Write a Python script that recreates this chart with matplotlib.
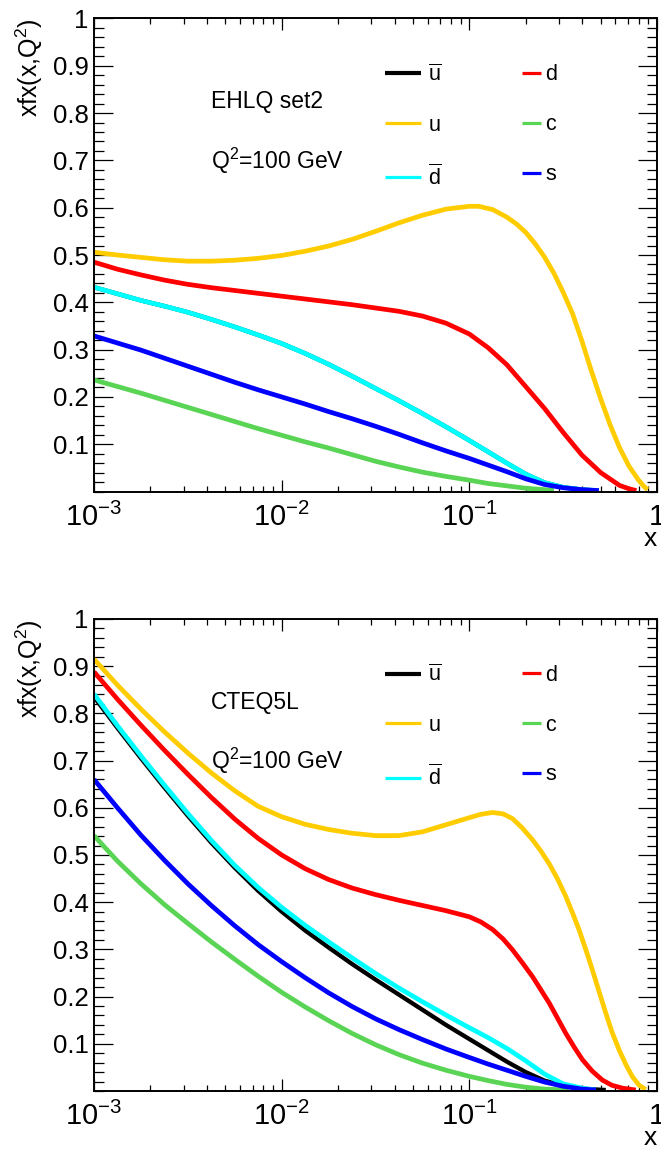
import numpy as np
import matplotlib.pyplot as plt
from matplotlib.ticker import FixedLocator, FixedFormatter, MultipleLocator, LogLocator, NullFormatter

plt.rcParams['font.family'] = ['Liberation Sans', 'DejaVu Sans']
plt.rcParams['mathtext.fontset'] = 'custom'
plt.rcParams['mathtext.rm'] = 'Liberation Sans'
plt.rcParams['mathtext.it'] = 'Liberation Sans:italic'
plt.rcParams['mathtext.bf'] = 'Liberation Sans:bold'

# ---------------------------------------------------------------------------
# Data (x given as log10(x))
# ---------------------------------------------------------------------------
grid = [-3.0, -2.875, -2.75, -2.625, -2.5, -2.375, -2.25, -2.125, -2.0, -1.875,
        -1.75, -1.625, -1.5, -1.375, -1.25, -1.125, -1.0]

# --- EHLQ set2 ---
ehlq_u_lx = grid + [-0.95, -0.875, -0.8, -0.75, -0.7, -0.65, -0.6, -0.55, -0.5, -0.45,
                    -0.4, -0.35, -0.3, -0.25, -0.2, -0.15, -0.1, -0.07, -0.05]
ehlq_u = [0.506, 0.500, 0.495, 0.490, 0.487, 0.487, 0.489, 0.493, 0.499, 0.508,
          0.519, 0.533, 0.550, 0.568, 0.584, 0.597, 0.603,
          0.603, 0.596, 0.580, 0.566, 0.548, 0.524, 0.496, 0.462, 0.421, 0.376,
          0.318, 0.255, 0.196, 0.141, 0.093, 0.054, 0.025, 0.011, 0.004]

ehlq_d_lx = grid + [-0.9, -0.8, -0.7, -0.6, -0.5, -0.4, -0.3, -0.2, -0.15, -0.11]
ehlq_d = [0.485, 0.470, 0.458, 0.447, 0.438, 0.431, 0.425, 0.419, 0.413, 0.407,
          0.401, 0.395, 0.388, 0.381, 0.371, 0.356, 0.333,
          0.304, 0.268, 0.222, 0.176, 0.125, 0.077, 0.040, 0.013, 0.006, 0.002]

ehlq_sea_lx = grid + [-0.9, -0.8, -0.7, -0.6, -0.5, -0.4, -0.31]
ehlq_ubar = [0.432, 0.418, 0.404, 0.392, 0.379, 0.364, 0.348, 0.331, 0.313, 0.292,
             0.269, 0.244, 0.218, 0.192, 0.165, 0.137, 0.108,
             0.084, 0.060, 0.037, 0.019, 0.009, 0.004, 0.002]
ehlq_dbar = [0.432, 0.418, 0.404, 0.392, 0.379, 0.364, 0.348, 0.331, 0.313, 0.292,
             0.269, 0.244, 0.218, 0.192, 0.165, 0.137, 0.108,
             0.084, 0.060, 0.037, 0.019, 0.009, 0.004, 0.002]
ehlq_s = [0.329, 0.314, 0.299, 0.282, 0.265, 0.248, 0.231, 0.215, 0.200, 0.185,
          0.169, 0.154, 0.138, 0.121, 0.103, 0.086, 0.070,
          0.056, 0.042, 0.027, 0.015, 0.008, 0.004, 0.002]

ehlq_c_lx = grid + [-0.9, -0.8, -0.7, -0.6, -0.55]
ehlq_c = [0.236, 0.222, 0.208, 0.193, 0.178, 0.163, 0.148, 0.133, 0.119, 0.105,
          0.092, 0.078, 0.064, 0.052, 0.041, 0.032, 0.024,
          0.017, 0.012, 0.007, 0.004, 0.002]

# --- CTEQ5L ---
cteq_u_lx = grid + [-0.94, -0.876, -0.82, -0.77, -0.72, -0.663, -0.62, -0.574, -0.53,
                    -0.486, -0.45, -0.415, -0.38, -0.344, -0.31, -0.273, -0.24, -0.202,
                    -0.165, -0.131, -0.095, -0.06]
cteq_u = [0.915, 0.860, 0.809, 0.761, 0.716, 0.674, 0.636, 0.603, 0.581, 0.565,
          0.554, 0.546, 0.541, 0.541, 0.549, 0.564, 0.579,
          0.586, 0.590, 0.587, 0.577, 0.558, 0.532, 0.509, 0.481, 0.449,
          0.412, 0.377, 0.341, 0.300, 0.256, 0.212, 0.165, 0.125, 0.087,
          0.055, 0.030, 0.012, 0.003]

cteq_d_lx = grid + [-0.938, -0.876, -0.82, -0.77, -0.72, -0.663, -0.62, -0.574, -0.53,
                    -0.486, -0.44, -0.397, -0.345, -0.291, -0.24, -0.184, -0.113]
cteq_d = [0.888, 0.830, 0.775, 0.722, 0.671, 0.622, 0.576, 0.535, 0.500, 0.471,
          0.448, 0.430, 0.416, 0.404, 0.393, 0.382, 0.369,
          0.358, 0.342, 0.322, 0.299, 0.273, 0.242, 0.215, 0.186, 0.154,
          0.122, 0.092, 0.066, 0.042, 0.023, 0.012, 0.006, 0.002]

cteq_ubar_lx = grid + [-0.9, -0.8, -0.7, -0.6, -0.5, -0.4, -0.273]
cteq_ubar = [0.835, 0.769, 0.705, 0.643, 0.583, 0.526, 0.473, 0.424, 0.380, 0.340,
             0.304, 0.269, 0.236, 0.204, 0.172, 0.140, 0.110,
             0.086, 0.062, 0.040, 0.022, 0.011, 0.005, 0.002]

cteq_dbar_lx = grid + [-0.9, -0.8, -0.7, -0.6, -0.5, -0.4, -0.326]
cteq_dbar = [0.841, 0.774, 0.710, 0.648, 0.588, 0.531, 0.478, 0.431, 0.389, 0.351,
             0.316, 0.282, 0.249, 0.218, 0.189, 0.161, 0.134,
             0.113, 0.090, 0.064, 0.036, 0.015, 0.006, 0.002]

cteq_s_lx = grid + [-0.9, -0.8, -0.7, -0.6, -0.5, -0.4, -0.326]
cteq_s = [0.660, 0.600, 0.542, 0.489, 0.439, 0.393, 0.350, 0.310, 0.274, 0.240,
          0.208, 0.179, 0.153, 0.130, 0.109, 0.089, 0.071,
          0.057, 0.044, 0.031, 0.019, 0.010, 0.004, 0.002]

cteq_c_lx = grid + [-0.9, -0.8, -0.7, -0.6, -0.47]
cteq_c = [0.541, 0.487, 0.439, 0.395, 0.355, 0.316, 0.279, 0.243, 0.209, 0.178,
          0.149, 0.122, 0.098, 0.077, 0.059, 0.044, 0.031,
          0.022, 0.014, 0.008, 0.004, 0.002]

xtick_vals = [1e-3, 1e-2, 1e-1, 1.0]
xtick_labels = [r'$10^{-3}$', r'$10^{-2}$', r'$10^{-1}$', '1']
ytick_vals = [0.1, 0.2, 0.3, 0.4, 0.5, 0.6, 0.7, 0.8, 0.9, 1.0]
ytick_labels = ['0.1', '0.2', '0.3', '0.4', '0.5', '0.6', '0.7', '0.8', '0.9', '1']

colors = {'ubar': 'black', 'u': '#ffcc00', 'dbar': '#00ffff',
          'd': '#ff0000', 'c': '#59d454', 's': '#0000ff'}
widths = {'ubar': 3.1, 'u': 3.4, 'dbar': 3.4, 'd': 3.4, 'c': 3.4, 's': 3.4}


def draw_panel(ax, data, name):
    lines = {}
    for key in ['ubar', 'u', 'dbar', 'd', 'c', 's']:
        lx, vals = data[key]
        lines[key], = ax.plot(10.0 ** np.asarray(lx), vals, color=colors[key],
                              lw=widths[key], solid_capstyle='butt',
                              solid_joinstyle='round')

    ax.set_xscale('log')
    ax.set_xlim(1e-3, 1)
    ax.set_ylim(0, 1)
    ax.xaxis.set_major_locator(FixedLocator(xtick_vals))
    ax.xaxis.set_major_formatter(FixedFormatter(xtick_labels))
    ax.xaxis.set_minor_locator(LogLocator(base=10, subs=np.arange(2, 10)))
    ax.xaxis.set_minor_formatter(NullFormatter())
    ax.yaxis.set_major_locator(FixedLocator(ytick_vals))
    ax.yaxis.set_major_formatter(FixedFormatter(ytick_labels))
    ax.yaxis.set_minor_locator(MultipleLocator(0.02))

    ax.tick_params(which='both', direction='in', top=True, right=True, width=0.9)
    ax.tick_params(axis='y', which='major', length=14, labelsize=18.5, pad=4)
    ax.tick_params(axis='y', which='minor', length=7)
    ax.tick_params(axis='x', which='major', length=8.5, labelsize=21, pad=8)
    ax.tick_params(axis='x', which='minor', length=4)
    for sp in ax.spines.values():
        sp.set_linewidth(1.4)

    ax.set_xlabel('x', fontsize=19, loc='right')
    ax.xaxis.set_label_coords(1.0, -0.075)
    ax.set_ylabel('xfx(x,Q$^{2}$)', fontsize=18, loc='top')
    ax.yaxis.set_label_coords(-0.087, 1.0)

    ax.text(0.208, 0.810, name, transform=ax.transAxes, fontsize=16.5, va='baseline')
    ax.text(0.208, 0.682, r'Q$^{2}$=100 GeV', transform=ax.transAxes, fontsize=16.5,
            va='baseline')

    leg1 = ax.legend([lines['ubar'], lines['u'], lines['dbar']],
                     [r'$\overline{\mathrm{u}}$', 'u', r'$\overline{\mathrm{d}}$'],
                     loc='upper left', bbox_to_anchor=(0.517, 0.903), frameon=False,
                     fontsize=15.5, handlelength=1.68, handletextpad=0.33,
                     labelspacing=1.34, borderpad=0, borderaxespad=0)
    ax.add_artist(leg1)
    leg2 = ax.legend([lines['d'], lines['c'], lines['s']], ['d', 'c', 's'],
                     loc='upper left', bbox_to_anchor=(0.760, 0.903), frameon=False,
                     fontsize=15.5, handlelength=0.89, handletextpad=0.19,
                     labelspacing=1.34, borderpad=0, borderaxespad=0)
    for leg in (leg1, leg2):
        for h in leg.legend_handles:
            h.set_linewidth(2.3)
    leg1.legend_handles[0].set_linewidth(3.0)


fig = plt.figure(figsize=(6.61, 11.49), dpi=100)
ax_top = fig.add_axes([0.1422, 0.5722, 0.8518, 0.4117])
ax_bot = fig.add_axes([0.1422, 0.0505, 0.8518, 0.4108])

ehlq = {'ubar': (ehlq_sea_lx, ehlq_ubar), 'u': (ehlq_u_lx, ehlq_u),
        'dbar': (ehlq_sea_lx, ehlq_dbar), 'd': (ehlq_d_lx, ehlq_d),
        'c': (ehlq_c_lx, ehlq_c), 's': (ehlq_sea_lx, ehlq_s)}
cteq = {'ubar': (cteq_ubar_lx, cteq_ubar), 'u': (cteq_u_lx, cteq_u),
        'dbar': (cteq_dbar_lx, cteq_dbar), 'd': (cteq_d_lx, cteq_d),
        'c': (cteq_c_lx, cteq_c), 's': (cteq_s_lx, cteq_s)}

draw_panel(ax_top, ehlq, 'EHLQ set2')
draw_panel(ax_bot, cteq, 'CTEQ5L')

fig.savefig('out.png', dpi=100)
